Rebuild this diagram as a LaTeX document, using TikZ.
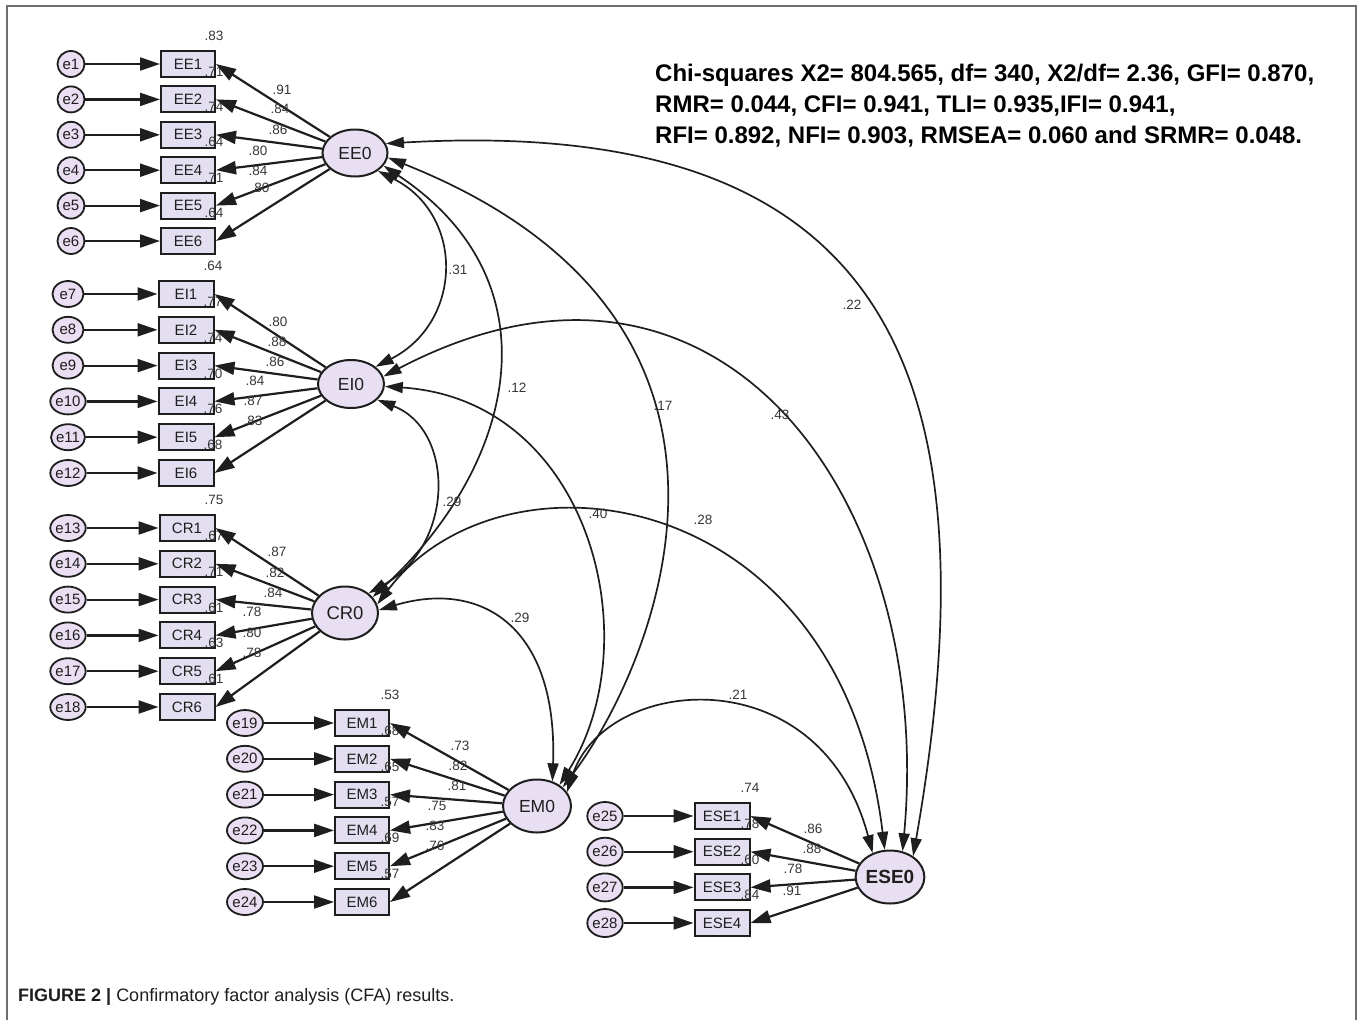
\documentclass[tikz,border=0pt]{standalone}
\usepackage{fontspec}
\setmainfont{Liberation Sans}
\usetikzlibrary{arrows.meta,shapes.geometric}
\definecolor{latfill}{RGB}{232,224,242}
\definecolor{boxfill}{RGB}{228,223,240}
\definecolor{errfill}{RGB}{234,223,242}
\definecolor{ink}{RGB}{30,30,30}
\definecolor{numcol}{RGB}{55,55,55}
\definecolor{framecol}{RGB}{110,110,110}
\tikzset{
  lat/.style={ellipse, draw=ink, line width=2pt, fill=latfill, inner sep=0pt, text=ink,
    font=\fontsize{17.5}{20}\selectfont},
  obs/.style={rectangle, draw=ink, line width=2pt, fill=boxfill, minimum width=54pt,
    minimum height=26pt, inner sep=0pt, text=ink, font=\fontsize{15}{17}\selectfont},
  err/.style={ellipse, draw=ink, line width=1.8pt, fill=errfill, minimum height=26pt,
    inner sep=0pt, text=ink, font=\fontsize{15}{17}\selectfont},
  num/.style={inner sep=0pt, text=numcol, font=\fontsize{13.5}{15}\selectfont},
  pth/.style={-{Triangle[length=20pt,width=13pt]}, line width=2.2pt, draw=ink},
  cov/.style={{Triangle[length=18pt,width=11pt]}-{Triangle[length=18pt,width=11pt]},
    line width=1.7pt, draw=ink},
}
\begin{document}
\begin{tikzpicture}[x=1pt,y=-1pt]
\useasboundingbox (0,0) rectangle (1362,1020);
\fill[white] (0,0) rectangle (1362,1020);
% frame
\draw[framecol, line width=1.5pt] (7,1020) -- (7,6) -- (1356,6) -- (1356,1020);

% ---------- EE group ----------
\foreach \i/\y/\r in {1/64/.83, 2/99.4/.71, 3/134.8/.74, 4/170.2/.64, 5/205.6/.71, 6/241/.64} {
  \node[err, minimum width=27pt] (e\i) at (71,\y) {e\i};
  \node[obs] (EE\i) at (188,\y) {EE\i};
  \node[num] at (214,\y-28) {\r};
}
\node[lat, minimum width=65pt, minimum height=47pt] (EE0) at (355,153) {EE0};
\foreach \i in {1,...,6} {
  \draw[pth] (e\i) -- (EE\i);
  \draw[pth] (EE0) -- (EE\i.east);
}

% ---------- EI group ----------
\foreach \i/\k/\y/\r/\w in {7/1/294/.64/31, 8/2/329.8/.77/31, 9/3/365.6/.74/31, 10/4/401.4/.70/34, 11/5/437.2/.76/34, 12/6/473/.68/34} {
  \node[err, minimum width=\w pt] (e\i) at (68,\y) {e\i};
  \node[obs, minimum width=55pt] (EI\k) at (186,\y) {EI\k};
  \node[num] at (213,\y-28) {\r};
}
\node[lat, minimum width=66pt, minimum height=48pt] (EI0) at (351,384) {EI0};
\foreach \i/\k in {7/1,8/2,9/3,10/4,11/5,12/6} {
  \draw[pth] (e\i) -- (EI\k);
  \draw[pth] (EI0) -- (EI\k.east);
}

% ---------- CR group ----------
\foreach \i/\k/\y/\r in {13/1/528/.75, 14/2/563.8/.67, 15/3/599.6/.71, 16/4/635.4/.61, 17/5/671.2/.63, 18/6/707/.61} {
  \node[err, minimum width=35pt] (e\i) at (68,\y) {e\i};
  \node[obs, minimum width=55pt] (CR\k) at (187,\y) {CR\k};
  \node[num] at (214,\y-28) {\r};
}
\node[lat, minimum width=66pt, minimum height=53pt, font=\fontsize{18.5}{20}\selectfont] (CR0) at (345,613) {CR0};
\foreach \i/\k in {13/1,14/2,15/3,16/4,17/5,18/6} {
  \draw[pth] (e\i) -- (CR\k);
  \draw[pth] (CR0) -- (CR\k.east);
}

% ---------- EM group ----------
\foreach \i/\k/\y/\r in {19/1/723/.53, 20/2/758.8/.68, 21/3/794.6/.65, 22/4/830.4/.57, 23/5/866.2/.69, 24/6/902/.57} {
  \node[err, minimum width=36pt] (e\i) at (245,\y) {e\i};
  \node[obs] (EM\k) at (362,\y) {EM\k};
  \node[num] at (390,\y-28) {\r};
}
\node[lat, minimum width=68pt, minimum height=53pt] (EM0) at (537,806) {EM0};
\foreach \i/\k in {19/1,20/2,21/3,22/4,23/5,24/6} {
  \draw[pth] (e\i) -- (EM\k);
  \draw[pth] (EM0) -- (EM\k.east);
}

% ---------- ESE group ----------
\foreach \i/\k/\y/\r in {25/1/816/.74, 26/2/851.7/.78, 27/3/887.4/.60, 28/4/923/.84} {
  \node[err, minimum width=30pt, minimum height=28pt] (e\i) at (605,\y) {e\i};
  \node[obs, minimum width=55pt] (ESE\k) at (722,\y) {ESE\k};
  \node[num] at (750,\y-28) {\r};
}
\node[lat, minimum width=66pt, minimum height=53pt, font=\fontsize{19}{21}\selectfont\bfseries] (ESE0) at (890,877) {ESE0};
\foreach \i/\k in {25/1,26/2,27/3,28/4} {
  \draw[pth] (e\i) -- (ESE\k);
  \draw[pth] (ESE0) -- (ESE\k.east);
}

% ---------- loadings ----------
\foreach \x/\y/\v in {282/90/.91, 280/109/.84, 278/130/.86, 258/151/.80, 258/171/.84, 260/188/.80,
  278/322/.80, 277/342/.88, 275/362/.86, 255/381/.84, 253/401/.87, 253/421/.83,
  277/552/.87, 275/573/.82, 273/593/.84, 252/612/.78, 252/633/.80, 252/653/.78,
  460/746/.73, 458/766/.82, 457/786/.81, 437/806/.75, 435/826/.83, 435/846/.76,
  813/829/.86, 812/849/.88, 793/869/.78, 792/891/.91}
  \node[num] at (\x,\y) {\v};

% ---------- covariances ----------
\draw[cov] (EE0.-38) .. controls (465,215) and (463,322) .. (EI0.35);
\draw[cov] (EE0.-24) .. controls (560,283) and (514,466) .. (CR0.30);
\draw[cov] (EE0.-8) .. controls (804,323) and (652,669) .. (EM0.36);
\draw[cov] (EE0.17) .. controls (880,115) and (1000,360) .. (ESE0.42);
\draw[cov] (EI0.-31) .. controls (455,430) and (455,545) .. (CR0.40);
\draw[cov] (EI0.-4) .. controls (590,400) and (650,640) .. (EM0.43);
\draw[cov] (EI0.13) .. controls (720,200) and (935,500) .. (ESE0.64);
\draw[cov] (CR0.5) .. controls (480,580) and (558,625) .. (EM0.58);
\draw[cov] (CR0.15) .. controls (500,440) and (840,480) .. (ESE0.101);
\draw[cov] (EM0.25) .. controls (605,675) and (820,655) .. (ESE0.126);

\foreach \x/\y/\v in {458/270/.31, 517/388/.12, 663/406/.17, 852/305/.22, 780/415/.43,
  452/502/.29, 598/514/.40, 703/520/.28, 520/618/.29, 738/695/.21}
  \node[num] at (\x,\y) {\v};

% ---------- fit indices ----------
\begin{scope}[every node/.style={anchor=base west, inner sep=0pt, text=black,
    font=\fontsize{24}{31}\selectfont\bfseries}]
\node (fit1) at (655,81) {Chi-squares X2= 804.565, df= 340, X2/df= 2.36, GFI= 0.870,};
\node (fit2) at (655,112) {RMR= 0.044, CFI= 0.941, TLI= 0.935,IFI= 0.941,};
\node (fit3) at (655,143) {RFI= 0.892, NFI= 0.903, RMSEA= 0.060 and SRMR= 0.048.};
\end{scope}

% ---------- caption ----------
\node[anchor=base west, inner sep=0pt, text=ink, font=\fontsize{18}{20}\selectfont] (cap) at (18,1001)
  {\textbf{FIGURE 2 |} Confirmatory factor analysis (CFA) results.};
\end{tikzpicture}
\end{document}
